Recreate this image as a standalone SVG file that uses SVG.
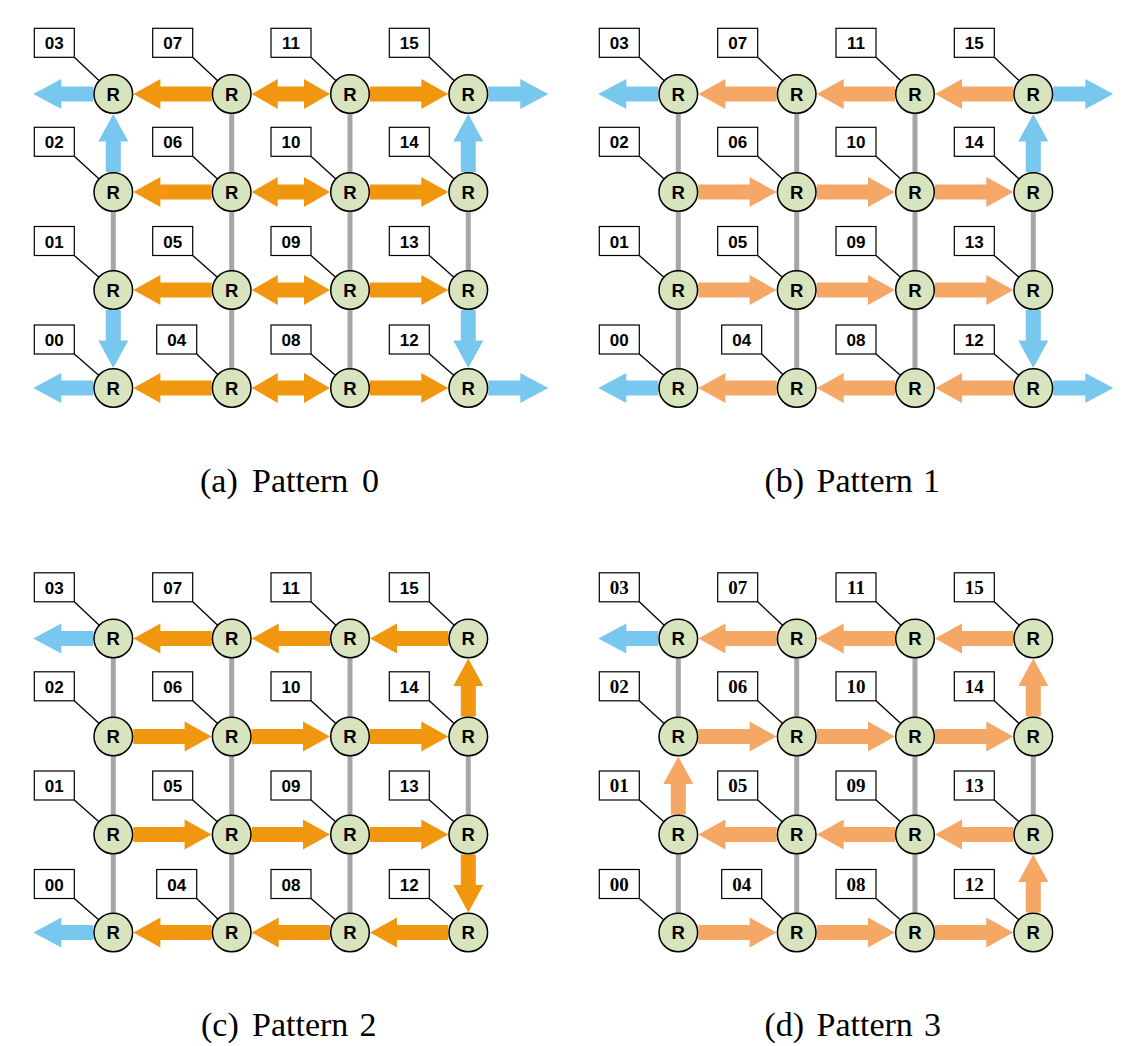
<svg xmlns="http://www.w3.org/2000/svg" xmlns:xlink="http://www.w3.org/1999/xlink" width="1139" height="1046" viewBox="0 0 1139 1046">
<style>
.rt{fill:#D7E4BD;stroke:#000;stroke-width:1.5}
.rl{font-family:"Liberation Sans",Arial,sans-serif;font-weight:bold;font-size:18.5px;text-anchor:middle;fill:#000}
.bx{fill:#fff;stroke:#000;stroke-width:1.2}
.ld{stroke:#000;stroke-width:1.3}
.lb{font-family:"Liberation Sans",Arial,sans-serif;font-weight:bold;font-size:17px;text-anchor:middle;fill:#000}
.lbs{font-family:"Liberation Serif","Times New Roman",serif;font-weight:bold;font-size:19px;text-anchor:middle;fill:#000}
.gl{stroke:#A6A6A6;stroke-width:5}
.o{fill:#F0960F}
.lo{fill:#F5A766}
.b{fill:#78C7EE}
.cap{font-family:"Liberation Serif","Times New Roman",serif;font-size:34px;fill:#000}
</style>
<defs>
<path id="hArr" d="M0,-7.5 H51.3 V-15 L78.3,0 L51.3,15 V7.5 H0 Z"/>
<path id="dArr" d="M0,0 L26,-15 V-7.5 H52.3 V-15 L78.3,0 L52.3,15 V7.5 H26 V15 Z"/>
<path id="oArr" d="M0,-7.5 H32 V-15 L60,0 L32,15 V7.5 H0 Z"/>
<path id="vArr" d="M0,-7.5 H30.5 V-15 L58,0 L30.5,15 V7.5 H0 Z"/>
</defs>

<!-- ================= Panel (a) ================= -->
<g id="panel-a">
<g id="a-connectors">
<line class="gl" x1="113.3" y1="192" x2="113.3" y2="290"/>
<line class="gl" x1="231.7" y1="94" x2="231.7" y2="388"/>
<line class="gl" x1="350" y1="94" x2="350" y2="388"/>
<line class="gl" x1="468.3" y1="192" x2="468.3" y2="290"/>
<use href="#oArr" class="b" transform="translate(93.3,94) rotate(180)"/>
<use href="#hArr" class="o" transform="translate(211.7,94) rotate(180)"/>
<use href="#dArr" class="o" transform="translate(251.7,94)"/>
<use href="#hArr" class="o" transform="translate(370,94)"/>
<use href="#oArr" class="b" transform="translate(488.3,94)"/>
<use href="#hArr" class="o" transform="translate(211.7,192) rotate(180)"/>
<use href="#dArr" class="o" transform="translate(251.7,192)"/>
<use href="#hArr" class="o" transform="translate(370,192)"/>
<use href="#hArr" class="o" transform="translate(211.7,290) rotate(180)"/>
<use href="#dArr" class="o" transform="translate(251.7,290)"/>
<use href="#hArr" class="o" transform="translate(370,290)"/>
<use href="#oArr" class="b" transform="translate(93.3,388) rotate(180)"/>
<use href="#hArr" class="o" transform="translate(211.7,388) rotate(180)"/>
<use href="#dArr" class="o" transform="translate(251.7,388)"/>
<use href="#hArr" class="o" transform="translate(370,388)"/>
<use href="#oArr" class="b" transform="translate(488.3,388)"/>
<use href="#vArr" class="b" transform="translate(113.3,172) rotate(-90)"/>
<use href="#vArr" class="b" transform="translate(113.3,310) rotate(90)"/>
<use href="#vArr" class="b" transform="translate(468.3,172) rotate(-90)"/>
<use href="#vArr" class="b" transform="translate(468.3,310) rotate(90)"/>
</g>
<g id="a-n03"><line class="ld" x1="74.3" y1="57.3" x2="113.3" y2="94"/><rect class="bx" x="34.3" y="28.3" width="40" height="29"/><text class="lb" x="54.3" y="49.3">03</text><circle class="rt" cx="113.3" cy="94" r="19.3"/><text class="rl" x="113.3" y="100.6">R</text></g>
<g id="a-n02"><line class="ld" x1="74.3" y1="156.3" x2="113.3" y2="192"/><rect class="bx" x="34.3" y="127.3" width="40" height="29"/><text class="lb" x="54.3" y="148.3">02</text><circle class="rt" cx="113.3" cy="192" r="19.3"/><text class="rl" x="113.3" y="198.6">R</text></g>
<g id="a-n01"><line class="ld" x1="74.3" y1="255.5" x2="113.3" y2="290"/><rect class="bx" x="34.3" y="226.5" width="40" height="29"/><text class="lb" x="54.3" y="247.5">01</text><circle class="rt" cx="113.3" cy="290" r="19.3"/><text class="rl" x="113.3" y="296.6">R</text></g>
<g id="a-n00"><line class="ld" x1="74.3" y1="354" x2="113.3" y2="388"/><rect class="bx" x="34.3" y="325" width="40" height="29"/><text class="lb" x="54.3" y="346">00</text><circle class="rt" cx="113.3" cy="388" r="19.3"/><text class="rl" x="113.3" y="394.6">R</text></g>
<g id="a-n07"><line class="ld" x1="192.7" y1="57.3" x2="231.7" y2="94"/><rect class="bx" x="152.7" y="28.3" width="40" height="29"/><text class="lb" x="172.7" y="49.3">07</text><circle class="rt" cx="231.7" cy="94" r="19.3"/><text class="rl" x="231.7" y="100.6">R</text></g>
<g id="a-n06"><line class="ld" x1="192.7" y1="156.3" x2="231.7" y2="192"/><rect class="bx" x="152.7" y="127.3" width="40" height="29"/><text class="lb" x="172.7" y="148.3">06</text><circle class="rt" cx="231.7" cy="192" r="19.3"/><text class="rl" x="231.7" y="198.6">R</text></g>
<g id="a-n05"><line class="ld" x1="192.7" y1="255.5" x2="231.7" y2="290"/><rect class="bx" x="152.7" y="226.5" width="40" height="29"/><text class="lb" x="172.7" y="247.5">05</text><circle class="rt" cx="231.7" cy="290" r="19.3"/><text class="rl" x="231.7" y="296.6">R</text></g>
<g id="a-n04"><line class="ld" x1="196.7" y1="354" x2="231.7" y2="388"/><rect class="bx" x="156.7" y="325" width="40" height="29"/><text class="lb" x="176.7" y="346">04</text><circle class="rt" cx="231.7" cy="388" r="19.3"/><text class="rl" x="231.7" y="394.6">R</text></g>
<g id="a-n11"><line class="ld" x1="311" y1="57.3" x2="350" y2="94"/><rect class="bx" x="271" y="28.3" width="40" height="29"/><text class="lb" x="291" y="49.3">11</text><circle class="rt" cx="350" cy="94" r="19.3"/><text class="rl" x="350" y="100.6">R</text></g>
<g id="a-n10"><line class="ld" x1="311" y1="156.3" x2="350" y2="192"/><rect class="bx" x="271" y="127.3" width="40" height="29"/><text class="lb" x="291" y="148.3">10</text><circle class="rt" cx="350" cy="192" r="19.3"/><text class="rl" x="350" y="198.6">R</text></g>
<g id="a-n09"><line class="ld" x1="311" y1="255.5" x2="350" y2="290"/><rect class="bx" x="271" y="226.5" width="40" height="29"/><text class="lb" x="291" y="247.5">09</text><circle class="rt" cx="350" cy="290" r="19.3"/><text class="rl" x="350" y="296.6">R</text></g>
<g id="a-n08"><line class="ld" x1="311" y1="354" x2="350" y2="388"/><rect class="bx" x="271" y="325" width="40" height="29"/><text class="lb" x="291" y="346">08</text><circle class="rt" cx="350" cy="388" r="19.3"/><text class="rl" x="350" y="394.6">R</text></g>
<g id="a-n15"><line class="ld" x1="429.3" y1="57.3" x2="468.3" y2="94"/><rect class="bx" x="389.3" y="28.3" width="40" height="29"/><text class="lb" x="409.3" y="49.3">15</text><circle class="rt" cx="468.3" cy="94" r="19.3"/><text class="rl" x="468.3" y="100.6">R</text></g>
<g id="a-n14"><line class="ld" x1="429.3" y1="156.3" x2="468.3" y2="192"/><rect class="bx" x="389.3" y="127.3" width="40" height="29"/><text class="lb" x="409.3" y="148.3">14</text><circle class="rt" cx="468.3" cy="192" r="19.3"/><text class="rl" x="468.3" y="198.6">R</text></g>
<g id="a-n13"><line class="ld" x1="429.3" y1="255.5" x2="468.3" y2="290"/><rect class="bx" x="389.3" y="226.5" width="40" height="29"/><text class="lb" x="409.3" y="247.5">13</text><circle class="rt" cx="468.3" cy="290" r="19.3"/><text class="rl" x="468.3" y="296.6">R</text></g>
<g id="a-n12"><line class="ld" x1="429.3" y1="354" x2="468.3" y2="388"/><rect class="bx" x="389.3" y="325" width="40" height="29"/><text class="lb" x="409.3" y="346">12</text><circle class="rt" cx="468.3" cy="388" r="19.3"/><text class="rl" x="468.3" y="394.6">R</text></g>
</g>

<!-- ================= Panel (b) ================= -->
<g id="panel-b" transform="translate(565,0)">
<g id="b-connectors">
<line class="gl" x1="113.3" y1="94" x2="113.3" y2="388"/>
<line class="gl" x1="231.7" y1="94" x2="231.7" y2="388"/>
<line class="gl" x1="350" y1="94" x2="350" y2="388"/>
<line class="gl" x1="468.3" y1="192" x2="468.3" y2="290"/>
<use href="#oArr" class="b" transform="translate(93.3,94) rotate(180)"/>
<use href="#hArr" class="lo" transform="translate(211.7,94) rotate(180)"/>
<use href="#hArr" class="lo" transform="translate(330,94) rotate(180)"/>
<use href="#hArr" class="lo" transform="translate(448.3,94) rotate(180)"/>
<use href="#oArr" class="b" transform="translate(488.3,94)"/>
<use href="#hArr" class="lo" transform="translate(133.3,192)"/>
<use href="#hArr" class="lo" transform="translate(251.7,192)"/>
<use href="#hArr" class="lo" transform="translate(370,192)"/>
<use href="#hArr" class="lo" transform="translate(133.3,290)"/>
<use href="#hArr" class="lo" transform="translate(251.7,290)"/>
<use href="#hArr" class="lo" transform="translate(370,290)"/>
<use href="#oArr" class="b" transform="translate(93.3,388) rotate(180)"/>
<use href="#hArr" class="lo" transform="translate(211.7,388) rotate(180)"/>
<use href="#hArr" class="lo" transform="translate(330,388) rotate(180)"/>
<use href="#hArr" class="lo" transform="translate(448.3,388) rotate(180)"/>
<use href="#oArr" class="b" transform="translate(488.3,388)"/>
<use href="#vArr" class="b" transform="translate(468.3,172) rotate(-90)"/>
<use href="#vArr" class="b" transform="translate(468.3,310) rotate(90)"/>
</g>
<g id="b-n03"><line class="ld" x1="74.3" y1="57.3" x2="113.3" y2="94"/><rect class="bx" x="34.3" y="28.3" width="40" height="29"/><text class="lb" x="54.3" y="49.3">03</text><circle class="rt" cx="113.3" cy="94" r="19.3"/><text class="rl" x="113.3" y="100.6">R</text></g>
<g id="b-n02"><line class="ld" x1="74.3" y1="156.3" x2="113.3" y2="192"/><rect class="bx" x="34.3" y="127.3" width="40" height="29"/><text class="lb" x="54.3" y="148.3">02</text><circle class="rt" cx="113.3" cy="192" r="19.3"/><text class="rl" x="113.3" y="198.6">R</text></g>
<g id="b-n01"><line class="ld" x1="74.3" y1="255.5" x2="113.3" y2="290"/><rect class="bx" x="34.3" y="226.5" width="40" height="29"/><text class="lb" x="54.3" y="247.5">01</text><circle class="rt" cx="113.3" cy="290" r="19.3"/><text class="rl" x="113.3" y="296.6">R</text></g>
<g id="b-n00"><line class="ld" x1="74.3" y1="354" x2="113.3" y2="388"/><rect class="bx" x="34.3" y="325" width="40" height="29"/><text class="lb" x="54.3" y="346">00</text><circle class="rt" cx="113.3" cy="388" r="19.3"/><text class="rl" x="113.3" y="394.6">R</text></g>
<g id="b-n07"><line class="ld" x1="192.7" y1="57.3" x2="231.7" y2="94"/><rect class="bx" x="152.7" y="28.3" width="40" height="29"/><text class="lb" x="172.7" y="49.3">07</text><circle class="rt" cx="231.7" cy="94" r="19.3"/><text class="rl" x="231.7" y="100.6">R</text></g>
<g id="b-n06"><line class="ld" x1="192.7" y1="156.3" x2="231.7" y2="192"/><rect class="bx" x="152.7" y="127.3" width="40" height="29"/><text class="lb" x="172.7" y="148.3">06</text><circle class="rt" cx="231.7" cy="192" r="19.3"/><text class="rl" x="231.7" y="198.6">R</text></g>
<g id="b-n05"><line class="ld" x1="192.7" y1="255.5" x2="231.7" y2="290"/><rect class="bx" x="152.7" y="226.5" width="40" height="29"/><text class="lb" x="172.7" y="247.5">05</text><circle class="rt" cx="231.7" cy="290" r="19.3"/><text class="rl" x="231.7" y="296.6">R</text></g>
<g id="b-n04"><line class="ld" x1="196.7" y1="354" x2="231.7" y2="388"/><rect class="bx" x="156.7" y="325" width="40" height="29"/><text class="lb" x="176.7" y="346">04</text><circle class="rt" cx="231.7" cy="388" r="19.3"/><text class="rl" x="231.7" y="394.6">R</text></g>
<g id="b-n11"><line class="ld" x1="311" y1="57.3" x2="350" y2="94"/><rect class="bx" x="271" y="28.3" width="40" height="29"/><text class="lb" x="291" y="49.3">11</text><circle class="rt" cx="350" cy="94" r="19.3"/><text class="rl" x="350" y="100.6">R</text></g>
<g id="b-n10"><line class="ld" x1="311" y1="156.3" x2="350" y2="192"/><rect class="bx" x="271" y="127.3" width="40" height="29"/><text class="lb" x="291" y="148.3">10</text><circle class="rt" cx="350" cy="192" r="19.3"/><text class="rl" x="350" y="198.6">R</text></g>
<g id="b-n09"><line class="ld" x1="311" y1="255.5" x2="350" y2="290"/><rect class="bx" x="271" y="226.5" width="40" height="29"/><text class="lb" x="291" y="247.5">09</text><circle class="rt" cx="350" cy="290" r="19.3"/><text class="rl" x="350" y="296.6">R</text></g>
<g id="b-n08"><line class="ld" x1="311" y1="354" x2="350" y2="388"/><rect class="bx" x="271" y="325" width="40" height="29"/><text class="lb" x="291" y="346">08</text><circle class="rt" cx="350" cy="388" r="19.3"/><text class="rl" x="350" y="394.6">R</text></g>
<g id="b-n15"><line class="ld" x1="429.3" y1="57.3" x2="468.3" y2="94"/><rect class="bx" x="389.3" y="28.3" width="40" height="29"/><text class="lb" x="409.3" y="49.3">15</text><circle class="rt" cx="468.3" cy="94" r="19.3"/><text class="rl" x="468.3" y="100.6">R</text></g>
<g id="b-n14"><line class="ld" x1="429.3" y1="156.3" x2="468.3" y2="192"/><rect class="bx" x="389.3" y="127.3" width="40" height="29"/><text class="lb" x="409.3" y="148.3">14</text><circle class="rt" cx="468.3" cy="192" r="19.3"/><text class="rl" x="468.3" y="198.6">R</text></g>
<g id="b-n13"><line class="ld" x1="429.3" y1="255.5" x2="468.3" y2="290"/><rect class="bx" x="389.3" y="226.5" width="40" height="29"/><text class="lb" x="409.3" y="247.5">13</text><circle class="rt" cx="468.3" cy="290" r="19.3"/><text class="rl" x="468.3" y="296.6">R</text></g>
<g id="b-n12"><line class="ld" x1="429.3" y1="354" x2="468.3" y2="388"/><rect class="bx" x="389.3" y="325" width="40" height="29"/><text class="lb" x="409.3" y="346">12</text><circle class="rt" cx="468.3" cy="388" r="19.3"/><text class="rl" x="468.3" y="394.6">R</text></g>
</g>

<!-- ================= Panel (c) ================= -->
<g id="panel-c" transform="translate(0,544.5)">
<g id="c-connectors">
<line class="gl" x1="113.3" y1="94" x2="113.3" y2="388"/>
<line class="gl" x1="231.7" y1="94" x2="231.7" y2="388"/>
<line class="gl" x1="350" y1="94" x2="350" y2="388"/>
<line class="gl" x1="468.3" y1="192" x2="468.3" y2="290"/>
<use href="#oArr" class="b" transform="translate(93.3,94) rotate(180)"/>
<use href="#hArr" class="o" transform="translate(211.7,94) rotate(180)"/>
<use href="#hArr" class="o" transform="translate(330,94) rotate(180)"/>
<use href="#hArr" class="o" transform="translate(448.3,94) rotate(180)"/>
<use href="#hArr" class="o" transform="translate(133.3,192)"/>
<use href="#hArr" class="o" transform="translate(251.7,192)"/>
<use href="#hArr" class="o" transform="translate(370,192)"/>
<use href="#hArr" class="o" transform="translate(133.3,290)"/>
<use href="#hArr" class="o" transform="translate(251.7,290)"/>
<use href="#hArr" class="o" transform="translate(370,290)"/>
<use href="#oArr" class="b" transform="translate(93.3,388) rotate(180)"/>
<use href="#hArr" class="o" transform="translate(211.7,388) rotate(180)"/>
<use href="#hArr" class="o" transform="translate(330,388) rotate(180)"/>
<use href="#hArr" class="o" transform="translate(448.3,388) rotate(180)"/>
<use href="#vArr" class="o" transform="translate(468.3,172) rotate(-90)"/>
<use href="#vArr" class="o" transform="translate(468.3,310) rotate(90)"/>
</g>
<g id="c-n03"><line class="ld" x1="74.3" y1="57.3" x2="113.3" y2="94"/><rect class="bx" x="34.3" y="28.3" width="40" height="29"/><text class="lb" x="54.3" y="49.3">03</text><circle class="rt" cx="113.3" cy="94" r="19.3"/><text class="rl" x="113.3" y="100.6">R</text></g>
<g id="c-n02"><line class="ld" x1="74.3" y1="156.3" x2="113.3" y2="192"/><rect class="bx" x="34.3" y="127.3" width="40" height="29"/><text class="lb" x="54.3" y="148.3">02</text><circle class="rt" cx="113.3" cy="192" r="19.3"/><text class="rl" x="113.3" y="198.6">R</text></g>
<g id="c-n01"><line class="ld" x1="74.3" y1="255.5" x2="113.3" y2="290"/><rect class="bx" x="34.3" y="226.5" width="40" height="29"/><text class="lb" x="54.3" y="247.5">01</text><circle class="rt" cx="113.3" cy="290" r="19.3"/><text class="rl" x="113.3" y="296.6">R</text></g>
<g id="c-n00"><line class="ld" x1="74.3" y1="354" x2="113.3" y2="388"/><rect class="bx" x="34.3" y="325" width="40" height="29"/><text class="lb" x="54.3" y="346">00</text><circle class="rt" cx="113.3" cy="388" r="19.3"/><text class="rl" x="113.3" y="394.6">R</text></g>
<g id="c-n07"><line class="ld" x1="192.7" y1="57.3" x2="231.7" y2="94"/><rect class="bx" x="152.7" y="28.3" width="40" height="29"/><text class="lb" x="172.7" y="49.3">07</text><circle class="rt" cx="231.7" cy="94" r="19.3"/><text class="rl" x="231.7" y="100.6">R</text></g>
<g id="c-n06"><line class="ld" x1="192.7" y1="156.3" x2="231.7" y2="192"/><rect class="bx" x="152.7" y="127.3" width="40" height="29"/><text class="lb" x="172.7" y="148.3">06</text><circle class="rt" cx="231.7" cy="192" r="19.3"/><text class="rl" x="231.7" y="198.6">R</text></g>
<g id="c-n05"><line class="ld" x1="192.7" y1="255.5" x2="231.7" y2="290"/><rect class="bx" x="152.7" y="226.5" width="40" height="29"/><text class="lb" x="172.7" y="247.5">05</text><circle class="rt" cx="231.7" cy="290" r="19.3"/><text class="rl" x="231.7" y="296.6">R</text></g>
<g id="c-n04"><line class="ld" x1="196.7" y1="354" x2="231.7" y2="388"/><rect class="bx" x="156.7" y="325" width="40" height="29"/><text class="lb" x="176.7" y="346">04</text><circle class="rt" cx="231.7" cy="388" r="19.3"/><text class="rl" x="231.7" y="394.6">R</text></g>
<g id="c-n11"><line class="ld" x1="311" y1="57.3" x2="350" y2="94"/><rect class="bx" x="271" y="28.3" width="40" height="29"/><text class="lb" x="291" y="49.3">11</text><circle class="rt" cx="350" cy="94" r="19.3"/><text class="rl" x="350" y="100.6">R</text></g>
<g id="c-n10"><line class="ld" x1="311" y1="156.3" x2="350" y2="192"/><rect class="bx" x="271" y="127.3" width="40" height="29"/><text class="lb" x="291" y="148.3">10</text><circle class="rt" cx="350" cy="192" r="19.3"/><text class="rl" x="350" y="198.6">R</text></g>
<g id="c-n09"><line class="ld" x1="311" y1="255.5" x2="350" y2="290"/><rect class="bx" x="271" y="226.5" width="40" height="29"/><text class="lb" x="291" y="247.5">09</text><circle class="rt" cx="350" cy="290" r="19.3"/><text class="rl" x="350" y="296.6">R</text></g>
<g id="c-n08"><line class="ld" x1="311" y1="354" x2="350" y2="388"/><rect class="bx" x="271" y="325" width="40" height="29"/><text class="lb" x="291" y="346">08</text><circle class="rt" cx="350" cy="388" r="19.3"/><text class="rl" x="350" y="394.6">R</text></g>
<g id="c-n15"><line class="ld" x1="429.3" y1="57.3" x2="468.3" y2="94"/><rect class="bx" x="389.3" y="28.3" width="40" height="29"/><text class="lb" x="409.3" y="49.3">15</text><circle class="rt" cx="468.3" cy="94" r="19.3"/><text class="rl" x="468.3" y="100.6">R</text></g>
<g id="c-n14"><line class="ld" x1="429.3" y1="156.3" x2="468.3" y2="192"/><rect class="bx" x="389.3" y="127.3" width="40" height="29"/><text class="lb" x="409.3" y="148.3">14</text><circle class="rt" cx="468.3" cy="192" r="19.3"/><text class="rl" x="468.3" y="198.6">R</text></g>
<g id="c-n13"><line class="ld" x1="429.3" y1="255.5" x2="468.3" y2="290"/><rect class="bx" x="389.3" y="226.5" width="40" height="29"/><text class="lb" x="409.3" y="247.5">13</text><circle class="rt" cx="468.3" cy="290" r="19.3"/><text class="rl" x="468.3" y="296.6">R</text></g>
<g id="c-n12"><line class="ld" x1="429.3" y1="354" x2="468.3" y2="388"/><rect class="bx" x="389.3" y="325" width="40" height="29"/><text class="lb" x="409.3" y="346">12</text><circle class="rt" cx="468.3" cy="388" r="19.3"/><text class="rl" x="468.3" y="394.6">R</text></g>
</g>

<!-- ================= Panel (d) ================= -->
<g id="panel-d" transform="translate(565,544.5)">
<g id="d-connectors">
<line class="gl" x1="113.3" y1="94" x2="113.3" y2="192"/>
<line class="gl" x1="113.3" y1="290" x2="113.3" y2="388"/>
<line class="gl" x1="231.7" y1="94" x2="231.7" y2="388"/>
<line class="gl" x1="350" y1="94" x2="350" y2="388"/>
<line class="gl" x1="468.3" y1="192" x2="468.3" y2="290"/>
<use href="#oArr" class="b" transform="translate(93.3,94) rotate(180)"/>
<use href="#hArr" class="lo" transform="translate(211.7,94) rotate(180)"/>
<use href="#hArr" class="lo" transform="translate(330,94) rotate(180)"/>
<use href="#hArr" class="lo" transform="translate(448.3,94) rotate(180)"/>
<use href="#hArr" class="lo" transform="translate(133.3,192)"/>
<use href="#hArr" class="lo" transform="translate(251.7,192)"/>
<use href="#hArr" class="lo" transform="translate(370,192)"/>
<use href="#hArr" class="lo" transform="translate(211.7,290) rotate(180)"/>
<use href="#hArr" class="lo" transform="translate(330,290) rotate(180)"/>
<use href="#hArr" class="lo" transform="translate(448.3,290) rotate(180)"/>
<use href="#hArr" class="lo" transform="translate(133.3,388)"/>
<use href="#hArr" class="lo" transform="translate(251.7,388)"/>
<use href="#hArr" class="lo" transform="translate(370,388)"/>
<use href="#vArr" class="lo" transform="translate(113.3,270) rotate(-90)"/>
<use href="#vArr" class="lo" transform="translate(468.3,172) rotate(-90)"/>
<use href="#vArr" class="lo" transform="translate(468.3,368) rotate(-90)"/>
</g>
<g id="d-n03"><line class="ld" x1="74.3" y1="57.3" x2="113.3" y2="94"/><rect class="bx" x="34.3" y="28.3" width="40" height="29"/><text class="lbs" x="54.3" y="49.3">03</text><circle class="rt" cx="113.3" cy="94" r="19.3"/><text class="rl" x="113.3" y="100.6">R</text></g>
<g id="d-n02"><line class="ld" x1="74.3" y1="156.3" x2="113.3" y2="192"/><rect class="bx" x="34.3" y="127.3" width="40" height="29"/><text class="lbs" x="54.3" y="148.3">02</text><circle class="rt" cx="113.3" cy="192" r="19.3"/><text class="rl" x="113.3" y="198.6">R</text></g>
<g id="d-n01"><line class="ld" x1="74.3" y1="255.5" x2="113.3" y2="290"/><rect class="bx" x="34.3" y="226.5" width="40" height="29"/><text class="lbs" x="54.3" y="247.5">01</text><circle class="rt" cx="113.3" cy="290" r="19.3"/><text class="rl" x="113.3" y="296.6">R</text></g>
<g id="d-n00"><line class="ld" x1="74.3" y1="354" x2="113.3" y2="388"/><rect class="bx" x="34.3" y="325" width="40" height="29"/><text class="lbs" x="54.3" y="346">00</text><circle class="rt" cx="113.3" cy="388" r="19.3"/><text class="rl" x="113.3" y="394.6">R</text></g>
<g id="d-n07"><line class="ld" x1="192.7" y1="57.3" x2="231.7" y2="94"/><rect class="bx" x="152.7" y="28.3" width="40" height="29"/><text class="lbs" x="172.7" y="49.3">07</text><circle class="rt" cx="231.7" cy="94" r="19.3"/><text class="rl" x="231.7" y="100.6">R</text></g>
<g id="d-n06"><line class="ld" x1="192.7" y1="156.3" x2="231.7" y2="192"/><rect class="bx" x="152.7" y="127.3" width="40" height="29"/><text class="lbs" x="172.7" y="148.3">06</text><circle class="rt" cx="231.7" cy="192" r="19.3"/><text class="rl" x="231.7" y="198.6">R</text></g>
<g id="d-n05"><line class="ld" x1="192.7" y1="255.5" x2="231.7" y2="290"/><rect class="bx" x="152.7" y="226.5" width="40" height="29"/><text class="lbs" x="172.7" y="247.5">05</text><circle class="rt" cx="231.7" cy="290" r="19.3"/><text class="rl" x="231.7" y="296.6">R</text></g>
<g id="d-n04"><line class="ld" x1="196.7" y1="354" x2="231.7" y2="388"/><rect class="bx" x="156.7" y="325" width="40" height="29"/><text class="lbs" x="176.7" y="346">04</text><circle class="rt" cx="231.7" cy="388" r="19.3"/><text class="rl" x="231.7" y="394.6">R</text></g>
<g id="d-n11"><line class="ld" x1="311" y1="57.3" x2="350" y2="94"/><rect class="bx" x="271" y="28.3" width="40" height="29"/><text class="lbs" x="291" y="49.3">11</text><circle class="rt" cx="350" cy="94" r="19.3"/><text class="rl" x="350" y="100.6">R</text></g>
<g id="d-n10"><line class="ld" x1="311" y1="156.3" x2="350" y2="192"/><rect class="bx" x="271" y="127.3" width="40" height="29"/><text class="lbs" x="291" y="148.3">10</text><circle class="rt" cx="350" cy="192" r="19.3"/><text class="rl" x="350" y="198.6">R</text></g>
<g id="d-n09"><line class="ld" x1="311" y1="255.5" x2="350" y2="290"/><rect class="bx" x="271" y="226.5" width="40" height="29"/><text class="lbs" x="291" y="247.5">09</text><circle class="rt" cx="350" cy="290" r="19.3"/><text class="rl" x="350" y="296.6">R</text></g>
<g id="d-n08"><line class="ld" x1="311" y1="354" x2="350" y2="388"/><rect class="bx" x="271" y="325" width="40" height="29"/><text class="lbs" x="291" y="346">08</text><circle class="rt" cx="350" cy="388" r="19.3"/><text class="rl" x="350" y="394.6">R</text></g>
<g id="d-n15"><line class="ld" x1="429.3" y1="57.3" x2="468.3" y2="94"/><rect class="bx" x="389.3" y="28.3" width="40" height="29"/><text class="lbs" x="409.3" y="49.3">15</text><circle class="rt" cx="468.3" cy="94" r="19.3"/><text class="rl" x="468.3" y="100.6">R</text></g>
<g id="d-n14"><line class="ld" x1="429.3" y1="156.3" x2="468.3" y2="192"/><rect class="bx" x="389.3" y="127.3" width="40" height="29"/><text class="lbs" x="409.3" y="148.3">14</text><circle class="rt" cx="468.3" cy="192" r="19.3"/><text class="rl" x="468.3" y="198.6">R</text></g>
<g id="d-n13"><line class="ld" x1="429.3" y1="255.5" x2="468.3" y2="290"/><rect class="bx" x="389.3" y="226.5" width="40" height="29"/><text class="lbs" x="409.3" y="247.5">13</text><circle class="rt" cx="468.3" cy="290" r="19.3"/><text class="rl" x="468.3" y="296.6">R</text></g>
<g id="d-n12"><line class="ld" x1="429.3" y1="354" x2="468.3" y2="388"/><rect class="bx" x="389.3" y="325" width="40" height="29"/><text class="lbs" x="409.3" y="346">12</text><circle class="rt" cx="468.3" cy="388" r="19.3"/><text class="rl" x="468.3" y="394.6">R</text></g>
</g>

<!-- Captions -->
<g id="captions">
<text class="cap" y="492"><tspan x="200">(a)</tspan><tspan x="252">Pattern</tspan><tspan x="362">0</tspan></text>
<text class="cap" y="492"><tspan x="764.5">(b)</tspan><tspan x="816.5">Pattern</tspan><tspan x="923">1</tspan></text>
<text class="cap" y="1036"><tspan x="201">(c)</tspan><tspan x="252">Pattern</tspan><tspan x="359.5">2</tspan></text>
<text class="cap" y="1036"><tspan x="764.5">(d)</tspan><tspan x="816.5">Pattern</tspan><tspan x="924">3</tspan></text>
</g>
</svg>
